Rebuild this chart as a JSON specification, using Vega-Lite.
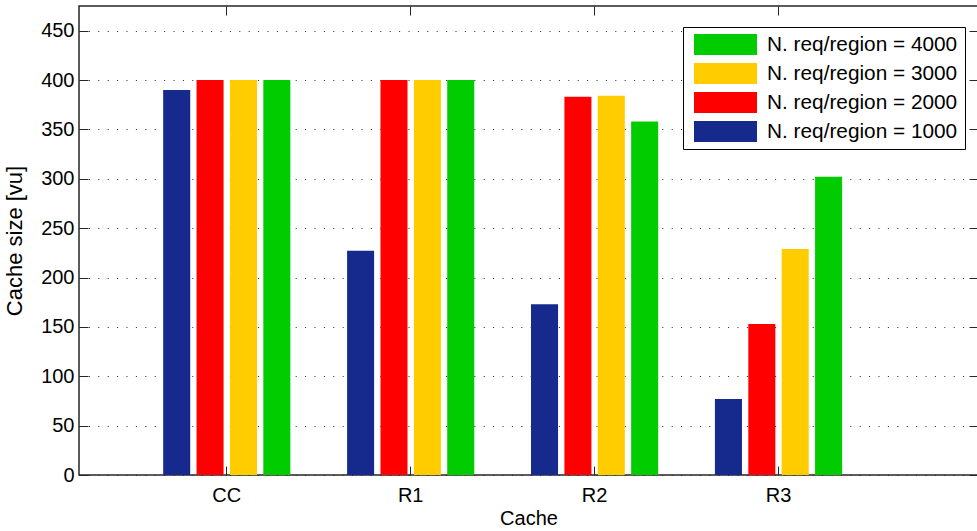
{
  "$schema": "https://vega.github.io/schema/vega-lite/v6.json",
  "width": 899,
  "height": 469,
  "autosize": {"type": "none"},
  "padding": {"left": 79, "top": 6, "right": 0, "bottom": 56},
  "background": "white",
  "config": {
    "font": "Liberation Sans",
    "view": {"stroke": "#262626", "strokeWidth": 1.5},
    "axis": {
      "labelFont": "Liberation Sans",
      "titleFont": "Liberation Sans",
      "labelFontSize": 20,
      "titleFontSize": 20,
      "labelColor": "black",
      "titleColor": "black",
      "titleFontWeight": "normal",
      "domain": false,
      "tickColor": "#262626",
      "tickWidth": 1
    }
  },
  "data": {
    "values": [
      {"cache": "CC", "req": 1000, "size": 390},
      {"cache": "CC", "req": 2000, "size": 400},
      {"cache": "CC", "req": 3000, "size": 400},
      {"cache": "CC", "req": 4000, "size": 400},
      {"cache": "R1", "req": 1000, "size": 227},
      {"cache": "R1", "req": 2000, "size": 400},
      {"cache": "R1", "req": 3000, "size": 400},
      {"cache": "R1", "req": 4000, "size": 400},
      {"cache": "R2", "req": 1000, "size": 173},
      {"cache": "R2", "req": 2000, "size": 383},
      {"cache": "R2", "req": 3000, "size": 384},
      {"cache": "R2", "req": 4000, "size": 358},
      {"cache": "R3", "req": 1000, "size": 77},
      {"cache": "R3", "req": 2000, "size": 153},
      {"cache": "R3", "req": 3000, "size": 229},
      {"cache": "R3", "req": 4000, "size": 302}
    ]
  },
  "layer": [
    {
      "mark": {"type": "bar"},
      "encoding": {
        "x": {
          "field": "cache",
          "type": "nominal",
          "sort": ["CC", "R1", "R2", "R3"],
          "scale": {"paddingInner": 0.274, "paddingOuter": 0.581, "align": 0.379},
          "axis": {"title": "Cache", "labelAngle": 0, "tickSize": -9, "labelPadding": 19, "titlePadding": 3}
        },
        "xOffset": {
          "field": "req",
          "type": "nominal",
          "sort": [1000, 2000, 3000, 4000],
          "scale": {"paddingInner": 0.19, "paddingOuter": 0.095}
        },
        "y": {
          "field": "size",
          "type": "quantitative",
          "scale": {"domain": [0, 475], "nice": false, "zero": true},
          "axis": {
            "title": "Cache size [vu]",
            "titleFontSize": 22,
            "values": [0, 50, 100, 150, 200, 250, 300, 350, 400, 450],
            "tickSize": -9,
            "labelPadding": 14,
            "grid": true,
            "gridDash": [1, 8.4],
            "gridColor": "#262626",
            "gridWidth": 1,
            "titlePadding": 14
          }
        },
        "color": {
          "field": "req",
          "type": "nominal",
          "scale": {"domain": [1000, 2000, 3000, 4000], "range": ["#152A8C", "#FF0000", "#FFCC00", "#00CC00"]},
          "legend": {
            "orient": "none",
            "legendX": 604,
            "legendY": 21,
            "title": null,
            "values": [4000, 3000, 2000, 1000],
            "labelExpr": "'N. req/region = ' + datum.label",
            "symbolType": "M-3,-1H3V1H-3Z",
            "symbolSize": 441,
            "symbolOffset": 25,
            "symbolStrokeWidth": 0,
            "symbolOpacity": 1,
            "labelFont": "Liberation Sans",
            "labelFontSize": 20.8,
            "labelColor": "black",
            "labelOffset": 31,
            "labelLimit": 400,
            "rowPadding": 7,
            "strokeColor": "black",
            "fillColor": "white",
            "padding": 7
          }
        }
      }
    },
    {
      "mark": {"type": "bar", "opacity": 0},
      "encoding": {
        "x": {
          "field": "cache",
          "type": "nominal",
          "sort": ["CC", "R1", "R2", "R3"],
          "axis": {"orient": "top", "labels": false, "title": null, "tickSize": -9}
        },
        "xOffset": {"field": "req", "type": "nominal", "sort": [1000, 2000, 3000, 4000]},
        "y": {
          "field": "size",
          "type": "quantitative",
          "axis": {
            "orient": "right",
            "labels": false,
            "title": null,
            "grid": false,
            "tickSize": -9,
            "values": [0, 50, 100, 150, 200, 250, 300, 350, 400, 450]
          }
        }
      }
    }
  ],
  "resolve": {"axis": {"x": "independent", "y": "independent"}}
}
